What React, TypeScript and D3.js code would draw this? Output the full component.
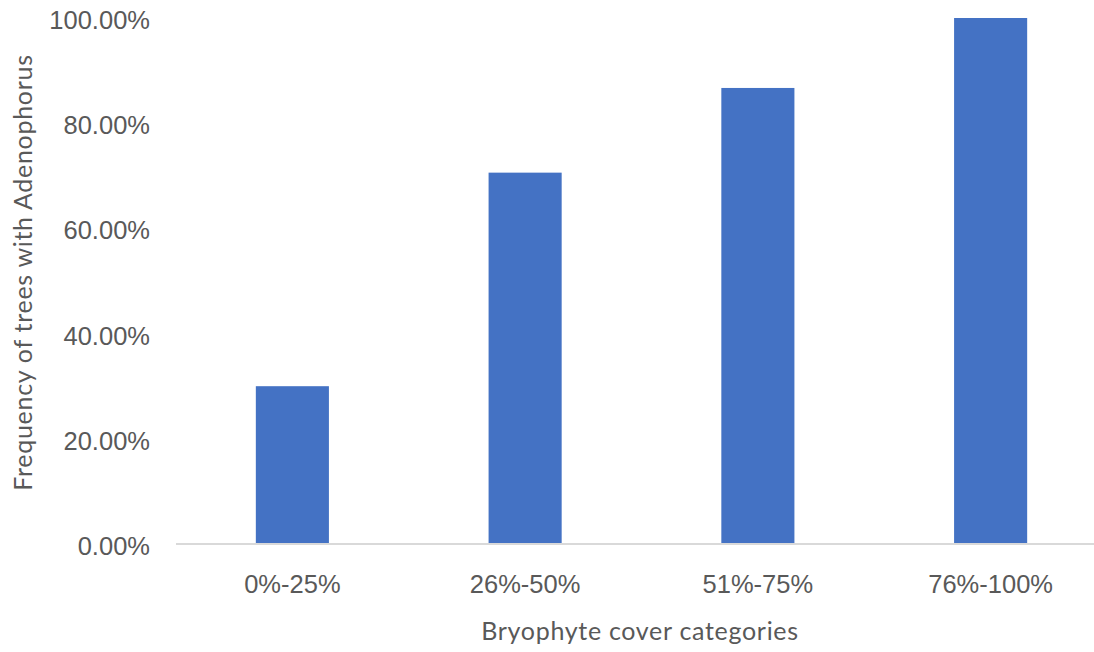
import React from "react";
import * as d3 from "d3";

const categories = ["0%-25%", "26%-50%", "51%-75%", "76%-100%"];
const frequencies = [0.3, 0.706, 0.867, 1.0];
const yTicks = [0, 0.2, 0.4, 0.6, 0.8, 1.0];

const W = 1094;
const H = 652;

export default function App() {
  const x = d3
    .scaleBand<string>()
    .domain(categories)
    .range([176, 1107])
    .paddingInner(0.686)
    .paddingOuter(0.343);
  const y = d3.scaleLinear().domain([0, 1]).range([544, 18]);
  const fmt = d3.format(".2%");
  const tickFont = "'Liberation Sans', Arial, Helvetica, sans-serif";
  const titleFont = "Lato, 'Open Sans', sans-serif";

  return (
    <div style={{ position: "absolute", left: 0, top: 0 }}>
      <svg width={W} height={H} style={{ display: "block", background: "#fff" }}>
        {/* bars */}
        {categories.map((c, i) => (
          <rect
            key={c}
            x={x(c)}
            y={y(frequencies[i])}
            width={x.bandwidth()}
            height={y(0) - y(frequencies[i])}
            fill="#4472C4"
          />
        ))}
        {/* category axis line */}
        <line x1={176} x2={x.range()[1]} y1={y(0)} y2={y(0)} stroke="#D9D9D9" strokeWidth={2} />
        {/* value axis labels */}
        {yTicks.map((t) => (
          <text
            key={t}
            x={150}
            y={y(t) + 11}
            textAnchor="end"
            fontFamily={tickFont}
            fontSize={25.5}
            fill="#595959"
          >
            {fmt(t)}
          </text>
        ))}
        {/* category labels */}
        {categories.map((c) => (
          <text
            key={c}
            x={(x(c) ?? 0) + x.bandwidth() / 2}
            y={593}
            textAnchor="middle"
            fontFamily={tickFont}
            fontSize={25.5}
            fill="#595959"
          >
            {c}
          </text>
        ))}
        {/* axis titles */}
        <text
          x={640}
          y={640}
          textAnchor="middle"
          fontFamily={titleFont}
          fontSize={25}
          letterSpacing={0.7}
          fill="#595959"
        >
          Bryophyte cover categories
        </text>
        <text
          transform="translate(32,272.5) rotate(-90)"
          textAnchor="middle"
          fontFamily={titleFont}
          fontSize={25}
          letterSpacing={0.7}
          fill="#595959"
        >
          Frequency of trees with Adenophorus
        </text>
      </svg>
    </div>
  );
}
